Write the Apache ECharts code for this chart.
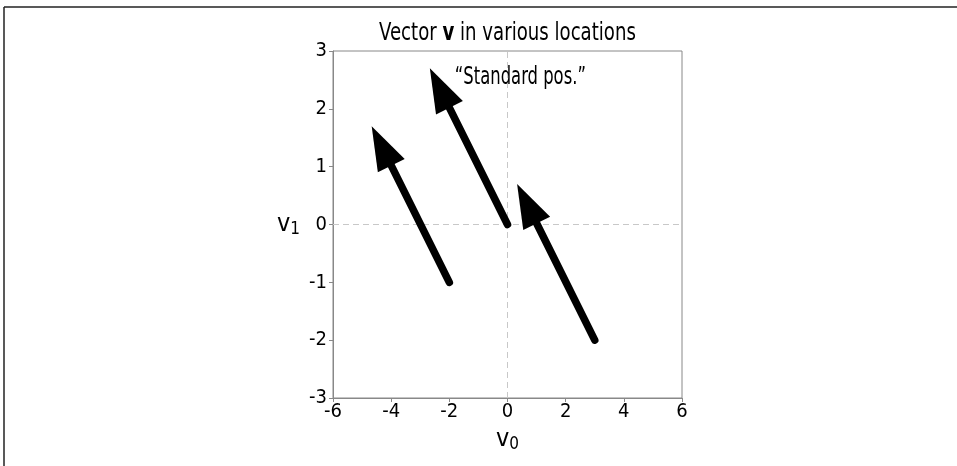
<!DOCTYPE html>
<html>
<head>
<meta charset="utf-8">
<script src="https://cdn.jsdelivr.net/npm/echarts@6/dist/echarts.min.js"></script>
<style>
html,body{margin:0;padding:0;background:#fff;}
#main{width:957px;height:466px;}
</style>
</head>
<body>
<div id="main"></div>
<script>
// ---- data ----
var startX = [0, -2, 3];
var startY = [0, -1, -2];
var vecX = [-2.67, -2.67, -2.67];
var vecY = [2.70, 2.70, 2.70];
var xTicks = [-6, -4, -2, 0, 2, 4, 6];
var yTicks = [-3, -2, -1, 0, 1, 2, 3];
var noteText = ['\u201cStandard pos.\u201d'];
var noteX = [-1.81];
var noteY = [2.53];

var FONT = '"Liberation Sans Narrow", "DejaVu Sans Condensed", sans-serif';

var arrowData = startX.map(function (x, i) { return [x, startY[i], vecX[i], vecY[i]]; });
var noteData = noteX.map(function (x, i) { return [x, noteY[i], i]; });

var chart = echarts.init(document.getElementById('main'), null, {renderer: 'canvas'});

function renderArrow(params, api) {
  var x0 = api.value(0), y0 = api.value(1), dx = api.value(2), dy = api.value(3);
  var p0 = api.coord([x0, y0]);
  var p1 = api.coord([x0 + dx, y0 + dy]);
  var vx = p1[0] - p0[0], vy = p1[1] - p0[1];
  var len = Math.sqrt(vx * vx + vy * vy);
  var ux = vx / len, uy = vy / len;
  var nx = -uy, ny = ux;
  var headLen = 44, headHalf = 15, shaftW = 7.5;
  var bx = p1[0] - ux * headLen, by = p1[1] - uy * headLen;
  return {
    type: 'group',
    children: [
      {
        type: 'line',
        shape: {x1: p0[0], y1: p0[1], x2: bx + ux * 3, y2: by + uy * 3},
        style: {stroke: '#000', lineWidth: shaftW, lineCap: 'round'}
      },
      {
        type: 'polygon',
        shape: {points: [
          [p1[0], p1[1]],
          [bx + nx * headHalf, by + ny * headHalf],
          [bx - nx * headHalf, by - ny * headHalf]
        ]},
        style: {fill: '#000'}
      }
    ]
  };
}

function renderNote(params, api) {
  var p = api.coord([api.value(0), api.value(1)]);
  return {
    type: 'text',
    x: p[0], y: p[1],
    scaleX: 0.76,
    style: {
      text: noteText[api.value(2)],
      fontFamily: FONT, fontSize: 24, fill: '#000',
      textAlign: 'left', textVerticalAlign: 'middle'
    }
  };
}

var option = {
  animation: false,
  backgroundColor: '#fff',
  graphic: [
    {type: 'line', shape: {x1: 4, y1: 7, x2: 957, y2: 7}, style: {stroke: '#222', lineWidth: 1.5}, silent: true},
    {type: 'line', shape: {x1: 4, y1: 7, x2: 4, y2: 466}, style: {stroke: '#222', lineWidth: 1.5}, silent: true},
    {
      type: 'text', x: 507.5, y: 22, scaleX: 0.84, silent: true,
      style: {
        text: '{n|Vector }{b|v}{n| in various locations}',
        textAlign: 'center', textVerticalAlign: 'top',
        rich: {
          n: {fontFamily: FONT, fontSize: 24, fill: '#000', fontWeight: 'normal'},
          b: {fontFamily: FONT, fontSize: 24, fill: '#000', fontWeight: 'bold'}
        }
      }
    }
  ],
  grid: {
    left: 333, top: 51, width: 349, height: 347,
    show: true, borderColor: '#888', borderWidth: 1, backgroundColor: 'transparent'
  },
  xAxis: {
    type: 'value', min: -6, max: 6, interval: 2,
    name: '{v|v}{s|0}', nameLocation: 'middle', nameGap: 28,
    nameTextStyle: {rich: {
      v: {fontFamily: FONT, fontSize: 25, color: '#000'},
      s: {fontFamily: FONT, fontSize: 17, color: '#000', padding: [10, 0, 0, 0]}
    }},
    axisLine: {show: true, onZero: false, lineStyle: {color: '#888', width: 1}},
    axisTick: {show: true, inside: false, length: 4, lineStyle: {color: '#888'}},
    axisLabel: {fontFamily: FONT, fontSize: 20, color: '#000', margin: 4,
      formatter: function (v) { return xTicks.indexOf(v) >= 0 ? String(v) : ''; }},
    splitLine: {show: false}
  },
  yAxis: {
    type: 'value', min: -3, max: 3, interval: 1,
    name: '{v|v}{s|1}', nameLocation: 'middle', nameGap: 33, nameRotate: 0,
    nameTextStyle: {rich: {
      v: {fontFamily: FONT, fontSize: 25, color: '#000'},
      s: {fontFamily: FONT, fontSize: 17, color: '#000', padding: [10, 0, 0, 0]}
    }},
    axisLine: {show: true, onZero: false, lineStyle: {color: '#888', width: 1}},
    axisTick: {show: true, inside: false, length: 4, lineStyle: {color: '#888'}},
    axisLabel: {fontFamily: FONT, fontSize: 20, color: '#000', margin: 6,
      formatter: function (v) { return yTicks.indexOf(v) >= 0 ? String(v) : ''; }},
    splitLine: {show: false}
  },
  series: [
    {
      type: 'line',
      data: [],
      silent: true,
      markLine: {
        silent: true,
        symbol: 'none',
        label: {show: false},
        lineStyle: {color: '#c8c8c8', type: [6, 4], width: 1},
        data: [{xAxis: 0}, {yAxis: 0}]
      }
    },
    {
      type: 'custom',
      renderItem: renderArrow,
      data: arrowData,
      encode: {x: 0, y: 1},
      z: 5
    },
    {
      type: 'custom',
      renderItem: renderNote,
      data: noteData,
      encode: {x: 0, y: 1},
      z: 6
    }
  ]
};
chart.setOption(option);
</script>
</body>
</html>
